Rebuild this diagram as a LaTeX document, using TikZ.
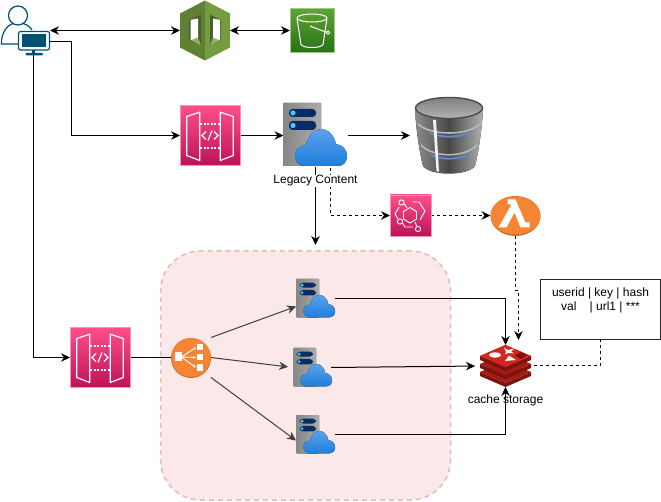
\documentclass[tikz,border=0pt]{standalone}
\usepackage{fontspec}
\setmainfont{Liberation Sans}
\usetikzlibrary{shapes.geometric, arrows.meta, positioning, calc}
\definecolor{inkteal}{RGB}{0, 80, 115}
\definecolor{pinkhi}{RGB}{255, 79, 139}
\definecolor{pinklo}{RGB}{188, 19, 86}
\definecolor{pinkedge}{RGB}{244, 150, 185}
\definecolor{oliveA}{RGB}{117, 156, 62}
\definecolor{oliveB}{RGB}{75, 97, 44}
\definecolor{oliveC}{RGB}{96, 128, 52}
\definecolor{bucketA}{RGB}{96, 163, 55}
\definecolor{bucketB}{RGB}{39, 113, 22}
\definecolor{awsorange}{RGB}{245, 133, 52}
\definecolor{awsorangelo}{RGB}{205, 105, 40}
\definecolor{cloudhi}{RGB}{92, 160, 235}
\definecolor{cloudlo}{RGB}{28, 127, 220}
\definecolor{barnavy}{RGB}{8, 44, 100}
\definecolor{zonefill}{RGB}{250, 233, 232}
\definecolor{zoneline}{RGB}{232, 185, 183}
\definecolor{redisA}{RGB}{214, 36, 30}
\definecolor{redisB}{RGB}{163, 28, 20}
\definecolor{redisC}{RGB}{125, 18, 14}
\tikzset{
  x=1pt, y=-1pt,
  iconbox/.style={inner sep=0pt, outer sep=0pt, anchor=north west},
  wire/.style={-{Stealth[length=9pt,width=8.5pt]}, line width=1pt, black},
  wireboth/.style={{Stealth[length=9pt,width=8.5pt]}-{Stealth[length=9pt,width=8.5pt]}, line width=1pt, black},
  wireplain/.style={line width=1pt, black},
  dashwire/.style={wire, dash pattern=on 3pt off 3pt},
  caption/.style={font=\fontsize{12}{14}\selectfont, inner sep=1pt},
  srvcloud/.pic={
    \fill[left color=gray!95, right color=gray!65, rounded corners=1pt] (0,0) rectangle (38,63);
    \fill[barnavy, rounded corners=3.5pt] (6,6) rectangle (33,14);
    \fill[barnavy, rounded corners=3.5pt] (6,18) rectangle (33,27);
    \fill[cyan!70!white] (10,10) circle (2.6);
    \fill[cyan!70!white] (10,22.5) circle (2.6);
    \fill[top color=cloudhi, bottom color=cloudlo] (22,63) .. controls (15,63) and (12,58) .. (12,53)
      .. controls (12,47) and (16,43) .. (23,42) .. controls (25,33) and (31,26) .. (38,26)
      .. controls (45,26) and (51,32) .. (53,41) .. controls (60,42) and (64,47) .. (64,53)
      .. controls (64,59) and (60,63) .. (55,63) -- cycle;
  },
  apigw/.pic={
    \draw[pinkedge, top color=pinkhi, bottom color=pinklo] (0,0) rectangle (60,60);
    \draw[white, line width=1.2pt, line join=round] (6.7,11) -- (19.7,6.7) -- (19.7,55) -- (6.7,50) -- cycle;
    \draw[white, line width=1.2pt, line join=round] (53.3,11) -- (40.3,6.7) -- (40.3,55) -- (53.3,50) -- cycle;
    \draw[white, line width=1.2pt, dash pattern=on 2pt off 1.5pt] (20,18.5) -- (40,18.5);
    \draw[white, line width=1.2pt, dash pattern=on 2pt off 1.5pt] (20,42.5) -- (40,42.5);
    \draw[white, line width=1.2pt] (26,26) -- (22,30) -- (26,34);
    \draw[white, line width=1.2pt] (34,26) -- (38,30) -- (34,34);
    \draw[white, line width=1.2pt] (28,35) -- (32,25);
  },
}
\begin{document}
\begin{tikzpicture}
  \useasboundingbox (0,0) rectangle (661,502);

  % Cache zone
  \node[iconbox, draw=zoneline, fill=zonefill, line width=1.5pt, dash pattern=on 5pt off 4pt, rounded corners=40pt,
    minimum width=290pt, minimum height=249pt] (cacheZone) at (160.5,251) {};

  % Icon frames
  \node[iconbox, minimum width=50pt, minimum height=41pt] (userDesk) at (0,15) {};
  \node[iconbox, minimum width=50pt, minimum height=60pt] (cognito) at (180,0.5) {};
  \node[iconbox, minimum width=44pt, minimum height=44pt] (bucket) at (290,8.5) {};
  \node[iconbox, minimum width=60pt, minimum height=60pt] (apiLegacy) at (180,105.5) {};
  \node[iconbox, minimum width=64pt, minimum height=63pt] (srvLegacy) at (283.5,104) {};
  \node[iconbox, minimum width=70pt, minimum height=80pt] (legacyDb) at (415,95.5) {};
  \node[iconbox, minimum width=41pt, minimum height=41pt] (busEvents) at (390,195) {};
  \node[iconbox, minimum width=50pt, minimum height=41pt] (fnLambda) at (490.5,195) {};
  \node[iconbox, minimum width=60pt, minimum height=60pt] (apiCache) at (70,327.5) {};
  \node[iconbox, minimum width=40pt, minimum height=40pt] (balancer) at (171,337.5) {};
  \node[iconbox, minimum width=39pt, minimum height=39pt] (srvA) at (296,279) {};
  \node[iconbox, minimum width=38pt, minimum height=39pt] (srvB) at (293,348) {};
  \node[iconbox, minimum width=39pt, minimum height=39pt] (srvC) at (296,415) {};
  \node[iconbox, minimum width=51pt, minimum height=42pt] (redisStore) at (480,345) {};
  \coordinate (userTop) at (50,30.5);
  \coordinate (userSide) at (50,41.5);
  \coordinate (userBase) at (33,55);
  \coordinate (legacyTap) at (330.5,168);
  \coordinate (cacheDrop) at (518.5,340);

  % Connectors
  \draw[wireboth] (userTop) -- (cognito.west);
  \draw[wireboth] (cognito.east) -- (bucket.west);
  \draw[wire] (userSide) -- ++(21.5,0) |- (apiLegacy.west);
  \draw[wire] (apiLegacy.east) -- (srvLegacy.west);
  \draw[wire, shorten >=5pt] (srvLegacy.east) -- (legacyDb.west);
  \draw[wire, shorten >=6pt] (srvLegacy.south) -- (srvLegacy.south |- cacheZone.north);
  \draw[dashwire] (legacyTap) |- (busEvents.west);
  \draw[dashwire] (busEvents.east) -- (fnLambda.west);
  \draw[dashwire] (fnLambda.south) -- ++(0,55) -- ++(3,0) -- (cacheDrop);
  \draw[wire] (userBase) |- (apiCache.west);
  \draw[wireplain] (apiCache.east) -- (balancer.west);
  \draw[wire, draw=black!75] (balancer.45) -- ([yshift=-8pt]srvA.west);
  \draw[wire, draw=black!75, shorten >=5pt] (balancer.east) -- (srvB.west);
  \draw[wire, draw=black!75] (balancer.-45) -- ([yshift=-6pt]srvC.west);
  \draw[wire] (srvA.east) -| (redisStore.north);
  \draw[wire, shorten >=5pt] (srvB.east) -- (redisStore.west);
  \draw[wire] (srvC.east) -| (redisStore.south);

  % User
  \begin{scope}[shift={(0,0)}, inkteal, line width=1.2pt]
    \draw (18,15.5) circle (9.5);
    \draw (18,44) -- (1.5,44) .. controls (1,32) and (8,25) .. (13,23.5);
    \draw (23,23.5) .. controls (27,24.5) and (30,27) .. (32,30);
    \draw[fill=white, rounded corners=2pt] (18.5,31.5) rectangle (49.5,50);
    \fill (22,34.5) rectangle (46,47);
    \fill (32,50) rectangle (35,53);
    \fill[rounded corners=1pt] (25.5,53) rectangle (43,55.5);
  \end{scope}

  % Cognito
  \begin{scope}[shift={(cognito.north west)}]
    \fill[oliveC] (0,13) -- (25,0) -- (25,60) -- (0,47) -- cycle;
    \fill[oliveA] (50,13) -- (25,0) -- (25,60) -- (50,47) -- cycle;
    \fill[oliveB] (9,20) -- (21,14) -- (21,45) -- (9,40) -- cycle;
    \fill[oliveB] (30,14) -- (41,20) -- (41,40) -- (30,45) -- cycle;
    \fill[oliveA!80!white] (11,40) -- (18,37) -- (21,45) -- cycle;
    \fill[oliveA!80!white] (40,40) -- (33,37) -- (30,45) -- cycle;
    \fill[white] (10.5,19.5) -- (18,18) -- (18,37) -- (10.5,40) -- cycle;
    \fill[white] (33,18) -- (40,19.5) -- (40,40) -- (33,37) -- cycle;
  \end{scope}

  % Bucket
  \begin{scope}[shift={(bucket.north west)}]
    \draw[bucketA!60!white, top color=bucketA, bottom color=bucketB] (0,0) rectangle (44,44);
    \draw[white, line width=1pt] (22,9.5) ellipse (15 and 4);
    \draw[white, line width=1pt] (7,10) -- (11,36) .. controls (13,40) and (31,40) .. (33,36) -- (37,10);
    \draw[white, line width=1pt] (21,18) -- (37,24);
    \draw[white, line width=0.8pt] (38,24) circle (1.8);
    \fill[white] (21,18) circle (1);
  \end{scope}

  % Gateways and servers
  \pic at (apiLegacy.north west) {apigw};
  \pic at (apiCache.north west) {apigw};
  \pic at (283,103) {srvcloud};
  \pic[scale=0.61] at (srvA.north west) {srvcloud};
  \pic[scale=0.61] at (srvB.north west) {srvcloud};
  \pic[scale=0.61] at (srvC.north west) {srvcloud};

  % Database
  \begin{scope}[shift={(415,96)}]
    \fill[left color=gray!90, right color=gray!60, middle color=black!72] (0,12) .. controls (1,35) and (5,58) .. (8,70)
      .. controls (15,80) and (53,80) .. (60,70) .. controls (63,58) and (67,35) .. (68,12) -- cycle;
    \draw[gray!55, line width=1.6pt] (3,28) .. controls (16,40) and (52,40) .. (65,28);
    \draw[gray!55, line width=1.6pt] (6,49) .. controls (18,62) and (50,62) .. (62,49);
    \draw[cyan!40!blue!65!white, line width=2pt] (15,37) .. controls (26,42) and (44,42) .. (56,36);
    \draw[cyan!40!blue!65!white, line width=2pt] (16,59) .. controls (26,64) and (44,64) .. (54,58);
    \fill[white!90!gray] (18,24) -- (21,24) -- (24,76) -- (21.5,75) -- cycle;
    \draw[gray!140, line width=1.4pt, top color=gray, bottom color=gray!60] (34,12) ellipse (33.5 and 10.5);
  \end{scope}

  % EventBridge
  \begin{scope}[shift={(busEvents.north west)}]
    \draw[pinkedge, top color=pinkhi, bottom color=pinklo] (0,0) rectangle (41,41);
    \draw[white, line width=0.9pt] (20,12.5) -- (26.5,16.5) -- (26.5,24) -- (20,28) -- (13.5,24) -- (13.5,16.5) -- cycle;
    \draw[white, line width=0.9pt] (11.5,7.5) circle (2.6);
    \draw[white, line width=0.9pt] (10,26.5) circle (2.6);
    \draw[white, line width=0.9pt] (28,34) circle (2.6);
    \draw[white, line width=0.9pt] (14,8.5) -- (17,13);
    \draw[white, line width=0.9pt] (25,27) -- (27,31.5);
    \draw[white, line width=0.9pt] (12.5,28) -- (15,32) -- (23,32);
    \draw[white, line width=0.9pt] (23,7) -- (29,7) -- (35,16) -- (30,25);
    \draw[white, line width=0.9pt] (9,12) -- (5,19) -- (8,24);
  \end{scope}

  % Lambda
  \fill[awsorangelo] (fnLambda.center) ++(0,0.5) ellipse (25 and 20);
  \fill[awsorange] (fnLambda.center) ellipse (25 and 19);
  \fill[white, shift={(fnLambda.center)}] (-8,-16) -- (0,-16) -- (10,7) -- (14,7) -- (14,12) -- (5,12) -- (-1,-3)
    -- (-9,12) -- (-17,12) -- (-4,-11) -- (-8,-11) -- cycle;

  % Balancer
  \begin{scope}[shift={(balancer.center)}]
    \fill[awsorangelo] (0,0.5) circle (20);
    \fill[awsorange] (0,0) circle (19.5);
    \fill[white] (-16,-5) rectangle (-9,4);
    \fill[white] (6,-13) rectangle (12,-7);
    \fill[white] (6,-3) rectangle (12,3);
    \fill[white] (6,7) rectangle (12,13);
    \draw[white, line width=0.9pt, -{Stealth[length=3pt,width=3pt]}] (-9,-1) -- (5,-10);
    \draw[white, line width=0.9pt, -{Stealth[length=3pt,width=3pt]}] (-9,-0.5) -- (5,0);
    \draw[white, line width=0.9pt, -{Stealth[length=3pt,width=3pt]}] (-9,0) -- (5,10);
  \end{scope}

  % Redis
  \begin{scope}[shift={(redisStore.north west)}]
    \foreach \layer in {16,8,0}{
      \fill[redisC] (0,{11+\layer}) -- (25.5,{22+\layer}) -- (51,{11+\layer}) -- (51,{15+\layer}) -- (25.5,{26+\layer}) -- (0,{15+\layer}) -- cycle;
      \fill[redisB] (0,{11+\layer}) -- (25.5,{0+\layer}) -- (51,{11+\layer}) -- (25.5,{22+\layer}) -- cycle;
    }
    \fill[redisA] (0,11) -- (25.5,0) -- (51,11) -- (25.5,22) -- cycle;
    \fill[white] (15,10) ellipse (6 and 2.6);
    \fill[white] (25,16) -- (29,10.5) -- (36,15) -- cycle;
    \fill[white] (24,3) -- (28,5) -- (34,3.5) -- (31,6.5) -- (34,8.5) -- (28,8) -- (25,9.5) -- (26,6.5) -- cycle;
    \fill[redisC] (35,10.5) -- (41,7) -- (47,10.5) -- (41,14) -- cycle;
  \end{scope}

  % Captions
  \node[caption, fill=white, inner sep=0.5pt] (legacyLabel) at (315.5,181) {Legacy Content};
  \node[caption] (cacheLabel) at (505.5,400.5) {cache storage};

  % Note
  \node[iconbox, draw=black!85, line width=1pt, fill=white, minimum width=120pt, minimum height=60pt,
    align=center, font=\fontsize{12}{14}\selectfont] (storeNote) at (540.5,279.5) {userid | key | hash\\val\hspace{1.1em}| url1 | ***\\[6pt]~};
  \draw[wireplain, dash pattern=on 3pt off 3pt] (storeNote.south) |- (redisStore.east);
\end{tikzpicture}
\end{document}
